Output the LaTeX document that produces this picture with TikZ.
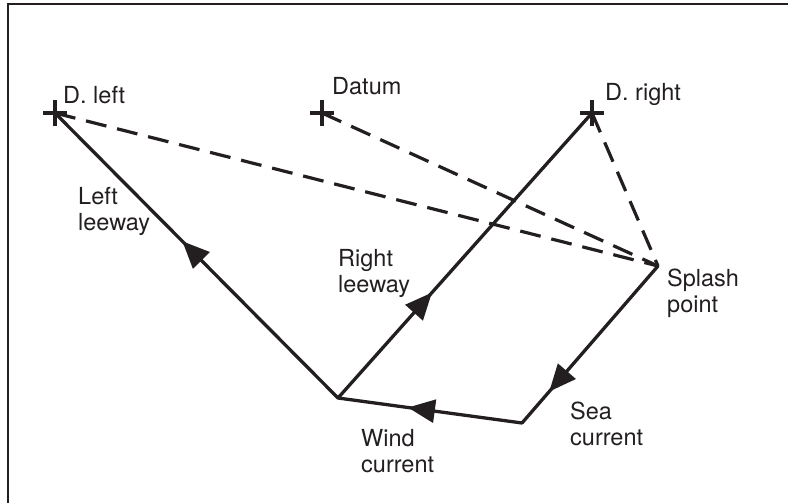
\documentclass[tikz,border=0pt]{standalone}
\usepackage{fontspec}
\setmainfont{TeX Gyre Heros}
\usetikzlibrary{arrows.meta,decorations.markings}
\definecolor{ink}{RGB}{35,31,32}
\tikzset{
  vec/.style={draw=ink, line width=3.3pt, line cap=round},
  dsh/.style={draw=ink, line width=3.2pt, dash pattern=on 21pt off 11pt},
  lbl/.style={anchor=base west, inner sep=0pt, align=left, text=ink,
              font=\fontsize{23.5}{26}\selectfont},
  midarrow/.style={postaction={decorate,decoration={markings,
      mark=at position #1 with {\arrow[ink]{Triangle[length=27pt,width=23pt]}}}}},
  crossmark/.style={draw=ink, line width=4pt},
  frame/.style={draw=ink, line width=2.8pt}
}
\begin{document}
\begin{tikzpicture}[x=1pt,y=-1pt]
\useasboundingbox (0,0) rectangle (788,503);
% frame (only top and left edges visible)
\coordinate (fbl) at (8,503);
\coordinate (ftl) at (8,4);
\coordinate (ftr) at (788,4);
\draw[frame] (fbl) -- (ftl) -- (ftr);

% points
\coordinate (dl) at (55,113);
\coordinate (dat) at (322,113);
\coordinate (dr) at (592,113);
\coordinate (sp) at (658,266);
\coordinate (sc) at (522,423);
\coordinate (wc) at (338,398);

% crosses
\foreach \p in {dl,dat,dr}{
  \draw[crossmark] (\p) ++(-12,0) -- ++(24,0);
  \draw[crossmark] (\p) ++(0,-13) -- ++(0,26);
}

% dashed lines to splash point
\draw[dsh] (dl) -- (sp);
\draw[dsh] (dat) -- (sp);
\draw[dsh] (dr) -- (sp);

% vectors
\draw[vec, midarrow=0.55] (wc) -- (dl);
\draw[vec, midarrow=0.37] (wc) -- (dr);
\draw[vec, midarrow=0.80] (sp) -- (sc);
\draw[vec, midarrow=0.62] (sc) -- (wc);

% labels (anchor at baseline of last line)
\node[lbl] (tdl) at (63,103) {D. left};
\node[lbl] (tdat) at (332,95) {Datum};
\node[lbl] (tdr) at (605,101) {D. right};
\node[lbl] (tll) at (78,230) {Left\\leeway};
\node[lbl] (trl) at (338,292) {Right\\leeway};
\node[lbl] (tsp) at (667,312) {Splash\\point};
\node[lbl] (tsc) at (570,445) {Sea\\current};
\node[lbl] (twc) at (361,472) {Wind\\current};
\end{tikzpicture}
\end{document}
